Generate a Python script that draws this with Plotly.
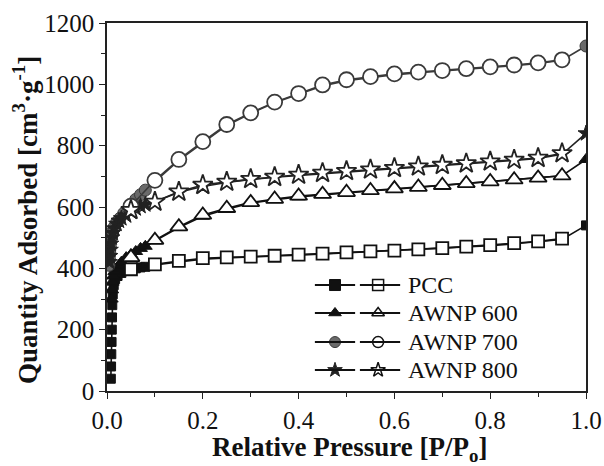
import plotly.graph_objects as go

# ---------------- data ----------------
# adsorption branches (filled markers)
pcc_ads_x = [0.008, 0.0085, 0.009, 0.0095, 0.010, 0.0105, 0.011, 0.012, 0.014, 0.017, 0.022, 0.03, 0.04, 0.06, 0.07, 0.08,
             0.10, 0.15, 0.20, 0.25, 0.30, 0.35, 0.40, 0.45, 0.50, 0.55, 0.60, 0.65, 0.70, 0.75, 0.80, 0.85, 0.90, 0.95, 1.00]
pcc_ads_y = [40, 80, 120, 160, 200, 240, 280, 315, 345, 365, 375, 385, 392, 400, 403, 405,
             411, 421, 430, 434, 436, 440, 443, 447, 450, 454, 457, 461, 465, 470, 474, 480, 486, 494, 540]

a600_ads_x = [0.009, 0.010, 0.011, 0.013, 0.016, 0.020, 0.025, 0.03, 0.04, 0.05, 0.06, 0.07, 0.08,
              0.10, 0.15, 0.20, 0.25, 0.30, 0.35, 0.40, 0.45, 0.50, 0.55, 0.60, 0.65, 0.70, 0.75, 0.80, 0.85, 0.90, 0.95, 1.00]
a600_ads_y = [300, 330, 355, 375, 390, 400, 410, 420, 435, 445, 455, 465, 472,
              490, 533, 570, 593, 612, 624, 633, 640, 647, 652, 658, 664, 670, 676, 682, 688, 694, 702, 755]

a700_ads_x = [0.004, 0.005, 0.006, 0.007, 0.008, 0.010, 0.012, 0.015, 0.020, 0.027, 0.035, 0.045, 0.06, 0.07, 0.08,
              0.10, 0.15, 0.20, 0.25, 0.30, 0.35, 0.40, 0.45, 0.50, 0.55, 0.60, 0.65, 0.70, 0.75, 0.80, 0.85, 0.90, 0.95, 1.00]
a700_ads_y = [410, 430, 450, 470, 490, 505, 520, 535, 550, 563, 580, 595, 625, 640, 655,
              683, 752, 810, 866, 905, 940, 968, 995, 1012, 1022, 1031, 1038, 1043, 1049, 1055, 1061, 1068, 1079, 1125]

a800_ads_x = [0.005, 0.006, 0.007, 0.008, 0.010, 0.012, 0.015, 0.020, 0.025, 0.03, 0.04, 0.05, 0.06, 0.07, 0.08,
              0.10, 0.15, 0.20, 0.25, 0.30, 0.35, 0.40, 0.45, 0.50, 0.55, 0.60, 0.65, 0.70, 0.75, 0.80, 0.85, 0.90, 0.95, 1.00]
a800_ads_y = [420, 440, 460, 480, 500, 515, 530, 545, 555, 563, 572, 585, 595, 603, 608,
              617, 648, 667, 680, 690, 697, 703, 709, 715, 720, 725, 730, 735, 740, 746, 752, 758, 772, 840]

# desorption branches (open markers)
des_x = [0.95, 0.90, 0.85, 0.80, 0.75, 0.70, 0.65, 0.60, 0.55, 0.50, 0.45, 0.40, 0.35, 0.30, 0.25, 0.20, 0.15, 0.10, 0.05]
pcc_des_y = [497, 488, 482, 476, 471, 466, 462, 458, 455, 452, 448, 445, 441, 438, 436, 433, 424, 413, 397]
a600_des_y = [702, 695, 689, 683, 677, 671, 665, 660, 654, 648, 642, 636, 626, 615, 596, 574, 536, 492, 436]
a700_des_y = [1080, 1070, 1063, 1057, 1051, 1045, 1040, 1034, 1025, 1015, 998, 970, 942, 907, 869, 813, 755, 687, 603]
a800_des_y = [775, 760, 754, 748, 742, 737, 732, 727, 722, 717, 711, 705, 698, 691, 682, 672, 650, 617, 590]

names = ["PCC", "AWNP 600", "AWNP 700", "AWNP 800"]
x_ticks = [0.0, 0.2, 0.4, 0.6, 0.8, 1.0]
x_tick_text = ["0.0", "0.2", "0.4", "0.6", "0.8", "1.0"]
y_ticks = [0, 200, 400, 600, 800, 1000, 1200]
x_title = "<b>Relative Pressure [P/P<sub>o</sub>]</b>"
y_title = "<b>Quantity Adsorbed [cm<sup>3</sup>·g<sup>-1</sup>]</b>"

# ---------------- style ----------------
FONT = "Liberation Serif, Times New Roman, serif"
series = [
    dict(ax=pcc_ads_x, ay=pcc_ads_y, dy=pcc_des_y, sym="square", col="#111111", fill="#111111", size=12),
    dict(ax=a600_ads_x, ay=a600_ads_y, dy=a600_des_y, sym="triangle-up", col="#111111", fill="#111111", size=15),
    dict(ax=a700_ads_x, ay=a700_ads_y, dy=a700_des_y, sym="circle", col="#3a3a3a", fill="#6a6a6a", size=15),
    dict(ax=a800_ads_x, ay=a800_ads_y, dy=a800_des_y, sym="star", col="#222222", fill="#222222", size=15),
]

fig = go.Figure()
for s in series:
    fig.add_trace(go.Scatter(
        x=s["ax"], y=s["ay"], mode="lines+markers", showlegend=False,
        line=dict(color=s["col"], width=1.6),
        marker=dict(symbol=s["sym"], size=s["size"] - 3, color=s["fill"],
                    line=dict(color=s["col"], width=1)),
    ))
for s in series:
    fig.add_trace(go.Scatter(
        x=des_x, y=s["dy"], mode="lines+markers", showlegend=False,
        line=dict(color=s["col"], width=1.6),
        marker=dict(symbol=s["sym"], size=s["size"], color="white",
                    line=dict(color=s["col"], width=1.8)),
    ))

# ---------------- custom legend (filled + open key per entry) ----------------
leg_y = [0.288, 0.212, 0.133, 0.057]
key_filled_x = 0.476
key_open_x = 0.566
for s, nm, yy in zip(series, names, leg_y):
    for x0, x1 in [(0.434, 0.518), (0.528, 0.612)]:
        fig.add_shape(type="line", xref="x2", yref="y2", x0=x0, x1=x1, y0=yy, y1=yy,
                      line=dict(color="#111111", width=2))
    fig.add_trace(go.Scatter(
        x=[key_filled_x], y=[yy], xaxis="x2", yaxis="y2", mode="markers", showlegend=False,
        marker=dict(symbol=s["sym"], size=11, color=s["fill"], line=dict(color=s["col"], width=1)),
        hoverinfo="skip"))
    fig.add_trace(go.Scatter(
        x=[key_open_x], y=[yy], xaxis="x2", yaxis="y2", mode="markers", showlegend=False,
        marker=dict(symbol=s["sym"], size=11, color="white", line=dict(color="#111111", width=1.5)),
        hoverinfo="skip"))
    fig.add_annotation(x=0.624, y=yy, xref="x2", yref="y2", text=nm, showarrow=False,
                       xanchor="left", yanchor="middle",
                       font=dict(family=FONT, size=24, color="#111111"))

# axis titles placed as annotations
fig.add_annotation(x=-0.171, y=0.465, xref="paper", yref="paper", text=y_title, showarrow=False,
                   textangle=-90, xanchor="center", yanchor="middle",
                   font=dict(family=FONT, size=27, color="#111111"))
fig.add_annotation(x=0.507, y=-0.158, xref="paper", yref="paper", text=x_title, showarrow=False,
                   xanchor="center", yanchor="middle",
                   font=dict(family=FONT, size=27, color="#111111"))

axis_common = dict(
    showline=True, linecolor="#222222", linewidth=1.5, mirror=True,
    ticks="outside", ticklen=6, tickwidth=1.3, tickcolor="#222222",
    showgrid=False, zeroline=False, automargin=False,
    tickfont=dict(family=FONT, size=25, color="#111111"),
)

fig.update_layout(
    width=604, height=466,
    margin=dict(l=107, r=18, t=23, b=75, autoexpand=False),
    paper_bgcolor="white", plot_bgcolor="white",
    font=dict(family=FONT),
    xaxis=dict(range=[0, 1.0], tickvals=x_ticks, ticktext=x_tick_text,
               minor=dict(dtick=0.1, ticks="outside", ticklen=4, tickwidth=1.2, tickcolor="#222222"),
               **axis_common),
    yaxis=dict(range=[0, 1200], tickvals=y_ticks,
               minor=dict(dtick=100, ticks="outside", ticklen=4, tickwidth=1.2, tickcolor="#222222"),
               **axis_common),
    xaxis2=dict(range=[0, 1], domain=[0, 1], overlaying="x", visible=False, fixedrange=True),
    yaxis2=dict(range=[0, 1], domain=[0, 1], overlaying="y", visible=False, fixedrange=True),
)

fig.write_html("out.html")
